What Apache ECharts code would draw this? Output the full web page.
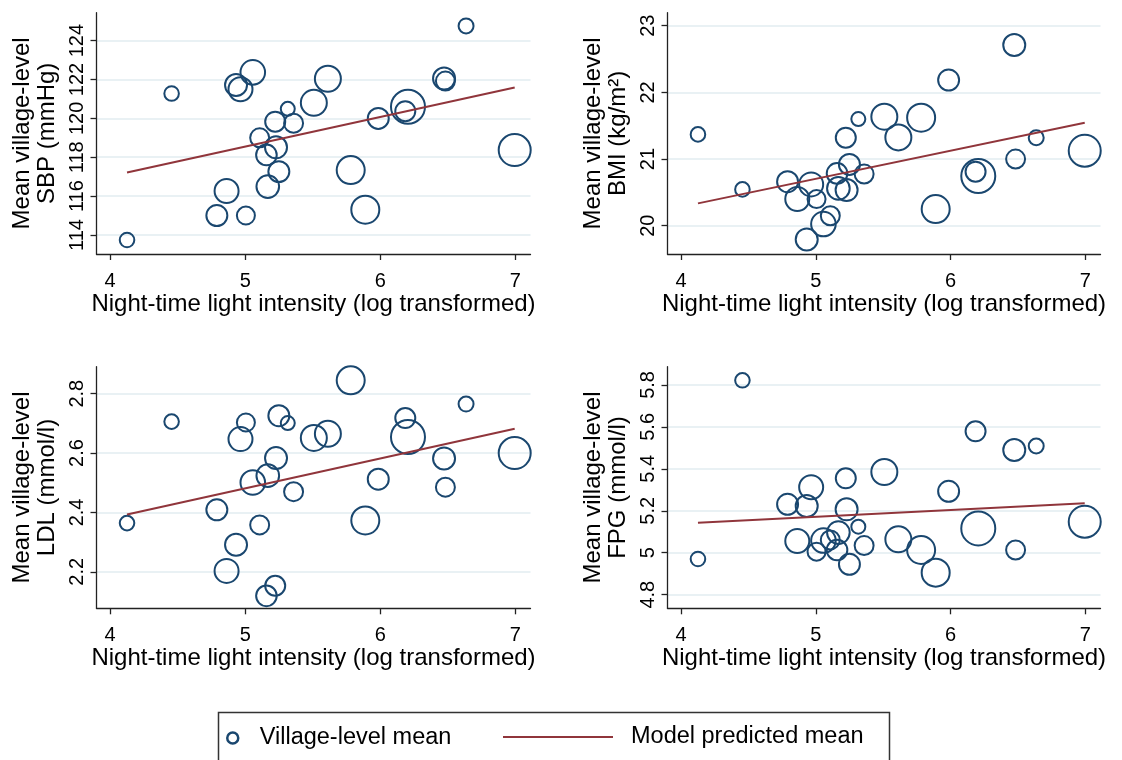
<!DOCTYPE html>
<html>
<head>
<meta charset="utf-8">
<script src="https://cdn.jsdelivr.net/npm/echarts@6/dist/echarts.min.js"></script>
<style>
html,body{margin:0;padding:0;background:#fff;}
#chart{width:1122px;height:760px;}
</style>
</head>
<body>
<div id="chart"></div>
<script>
// ---- data (one entry per village) ----
const nightLight = [4.125, 4.455, 4.79, 4.862, 5.005, 4.932, 4.965, 5.056, 5.107, 5.157, 5.167, 5.222, 5.228, 5.249, 5.315, 5.358, 5.508, 5.612, 5.781, 5.889, 5.985, 6.205, 6.185, 6.472, 6.482, 6.635, 6.995];
const villageWeight = [53, 53, 110, 144, 81, 121, 144, 151, 90, 106, 128, 100, 121, 110, 49, 90, 169, 169, 196, 196, 110, 289, 100, 121, 90, 56, 256];
const sbp = [113.74, 121.28, 115.0, 116.26, 115.0, 121.72, 121.5, 122.37, 119.0, 118.12, 116.49, 119.83, 118.51, 117.26, 120.49, 119.75, 120.8, 122.04, 117.34, 115.3, 120.0, 120.6, 120.37, 122.05, 121.92, 124.76, 118.37];
const bmi = [21.37, 20.545, 20.66, 20.40, 20.40, 19.795, 20.62, 20.025, 20.15, 20.785, 20.56, 21.32, 20.535, 20.92, 21.6, 20.775, 21.635, 21.325, 21.62, 20.25, 22.185, 20.745, 20.81, 22.71, 21.0, 21.32, 21.125];
const ldl = [2.364, 2.706, 2.409, 2.203, 2.703, 2.291, 2.647, 2.501, 2.358, 2.119, 2.524, 2.153, 2.583, 2.726, 2.701, 2.47, 2.651, 2.665, 2.845, 2.373, 2.512, 2.654, 2.718, 2.582, 2.485, 2.765, 2.6];
const fpg = [4.97, 5.822, 5.231, 5.056, 5.005, 5.223, 5.312, 5.058, 5.061, 5.013, 5.096, 5.355, 5.207, 4.945, 5.124, 5.034, 5.385, 5.064, 5.013, 4.905, 5.293, 5.116, 5.579, 5.49, 5.013, 5.509, 5.148];

// model predicted means at the ends of the observed x range
const predX = [4.125, 6.995];
const sbpPred = [117.22, 121.59];
const bmiPred = [20.335, 21.545];
const ldlPred = [2.393, 2.682];
const fpgPred = [5.143, 5.236];

// tick labels
const xTicks = [4, 5, 6, 7];
const sbpTicks = [114, 116, 118, 120, 122, 124];
const bmiTicks = [20, 21, 22, 23];
const ldlTicks = [2.2, 2.4, 2.6, 2.8];
const fpgTicks = [4.8, 5, 5.2, 5.4, 5.6, 5.8];

const xTitle = 'Night-time light intensity (log transformed)';
const yTitles = ['Mean village-level\nSBP (mmHg)', 'Mean village-level\nBMI (kg/m\u00B2)', 'Mean village-level\nLDL (mmol/l)', 'Mean village-level\nFPG (mmol/l)'];
const scatterName = 'Village-level mean';
const lineName = 'Model predicted mean';

// ---- chart ----
const FONT = '"Liberation Sans", Arial, Helvetica, sans-serif';
const NAVY = '#1a476f';
const MAROON = '#90353b';
const AXIS = '#222';

const panels = [
  {y: sbp, pred: sbpPred, ticks: sbpTicks, min: 113.02, max: 125.44},
  {y: bmi, pred: bmiPred, ticks: bmiTicks, min: 19.576, max: 23.195},
  {y: ldl, pred: ldlPred, ticks: ldlTicks, min: 2.077, max: 2.891},
  {y: fpg, pred: fpgPred, ticks: fpgTicks, min: 4.735, max: 5.887}
];
const gridBoxes = [
  {left: 96.5, top: 12.7, width: 434, height: 241.3},
  {left: 667.5, top: 12.7, width: 433, height: 241.3},
  {left: 96.5, top: 366.7, width: 434, height: 241.6},
  {left: 667.5, top: 366.7, width: 433, height: 241.6}
];

const grids = [], xAxes = [], yAxes = [], series = [];
panels.forEach((p, i) => {
  grids.push(Object.assign({containLabel: false}, gridBoxes[i]));
  xAxes.push({
    type: 'value', gridIndex: i, min: 3.899, max: 7.112,
    axisLine: {show: true, onZero: false, lineStyle: {color: AXIS, width: 1.3}},
    axisTick: {show: true, customValues: xTicks, length: 6, lineStyle: {color: AXIS, width: 1.3}},
    axisLabel: {customValues: xTicks, margin: 17, fontSize: 20, color: '#000', fontFamily: FONT},
    splitLine: {show: false},
    name: xTitle, nameLocation: 'middle', nameGap: 35,
    nameTextStyle: {fontSize: 24, color: '#000', fontFamily: FONT}
  });
  yAxes.push({
    type: 'value', gridIndex: i, min: p.min, max: p.max,
    axisLine: {show: true, onZero: false, lineStyle: {color: AXIS, width: 1.3}},
    axisTick: {show: true, customValues: p.ticks, length: 6, lineStyle: {color: AXIS, width: 1.3}},
    axisLabel: {customValues: p.ticks, rotate: 90, margin: 9, fontSize: 20, color: '#000', fontFamily: FONT},
    splitLine: {show: true, lineStyle: {color: '#e2edf1', width: 1.5}},
    name: yTitles[i], nameLocation: 'middle', nameGap: 36,
    nameTextStyle: {fontSize: 24, lineHeight: 25.5, color: '#000', fontFamily: FONT}
  });
  series.push({
    type: 'scatter', name: scatterName, xAxisIndex: i, yAxisIndex: i,
    data: nightLight.map((x, k) => [x, p.y[k]]),
    symbol: 'circle',
    symbolSize: (val, params) => 2 * Math.sqrt(villageWeight[params.dataIndex]),
    itemStyle: {color: 'rgba(255,255,255,0)', borderColor: NAVY, borderWidth: 2, opacity: 1},
    emphasis: {disabled: true},
    z: 2
  });
  series.push({
    type: 'line', name: lineName, xAxisIndex: i, yAxisIndex: i,
    data: predX.map((x, k) => [x, p.pred[k]]),
    showSymbol: false, symbol: 'none',
    lineStyle: {color: MAROON, width: 2},
    itemStyle: {color: MAROON},
    emphasis: {disabled: true},
    z: 3
  });
});

const chart = echarts.init(document.getElementById('chart'), null, {renderer: 'canvas'});
chart.setOption({
  backgroundColor: '#fff',
  animation: false,
  grid: grids,
  xAxis: xAxes,
  yAxis: yAxes,
  series: series,
  legend: [
    {
      data: [scatterName], left: 226, top: 726, padding: 0,
      itemWidth: 44, itemHeight: 11,
      itemStyle: {color: 'rgba(255,255,255,0)', borderColor: NAVY, borderWidth: 2.5},
      textStyle: {fontSize: 23.5, color: '#000', fontFamily: FONT},
      selectedMode: false
    },
    {
      data: [{name: lineName, icon: 'rect'}], left: 503, top: 725, padding: 0,
      itemWidth: 110, itemHeight: 2,
      itemStyle: {color: MAROON, borderWidth: 0},
      textStyle: {fontSize: 23.5, color: '#000', fontFamily: FONT, padding: [0, 0, 0, 13]},
      selectedMode: false
    }
  ],
  graphic: [{
    type: 'rect', left: 216, top: 710, z: 100, silent: true,
    shape: {width: 671, height: 90},
    style: {fill: 'none', stroke: '#333', lineWidth: 1.5}
  }]
});
</script>
</body>
</html>
